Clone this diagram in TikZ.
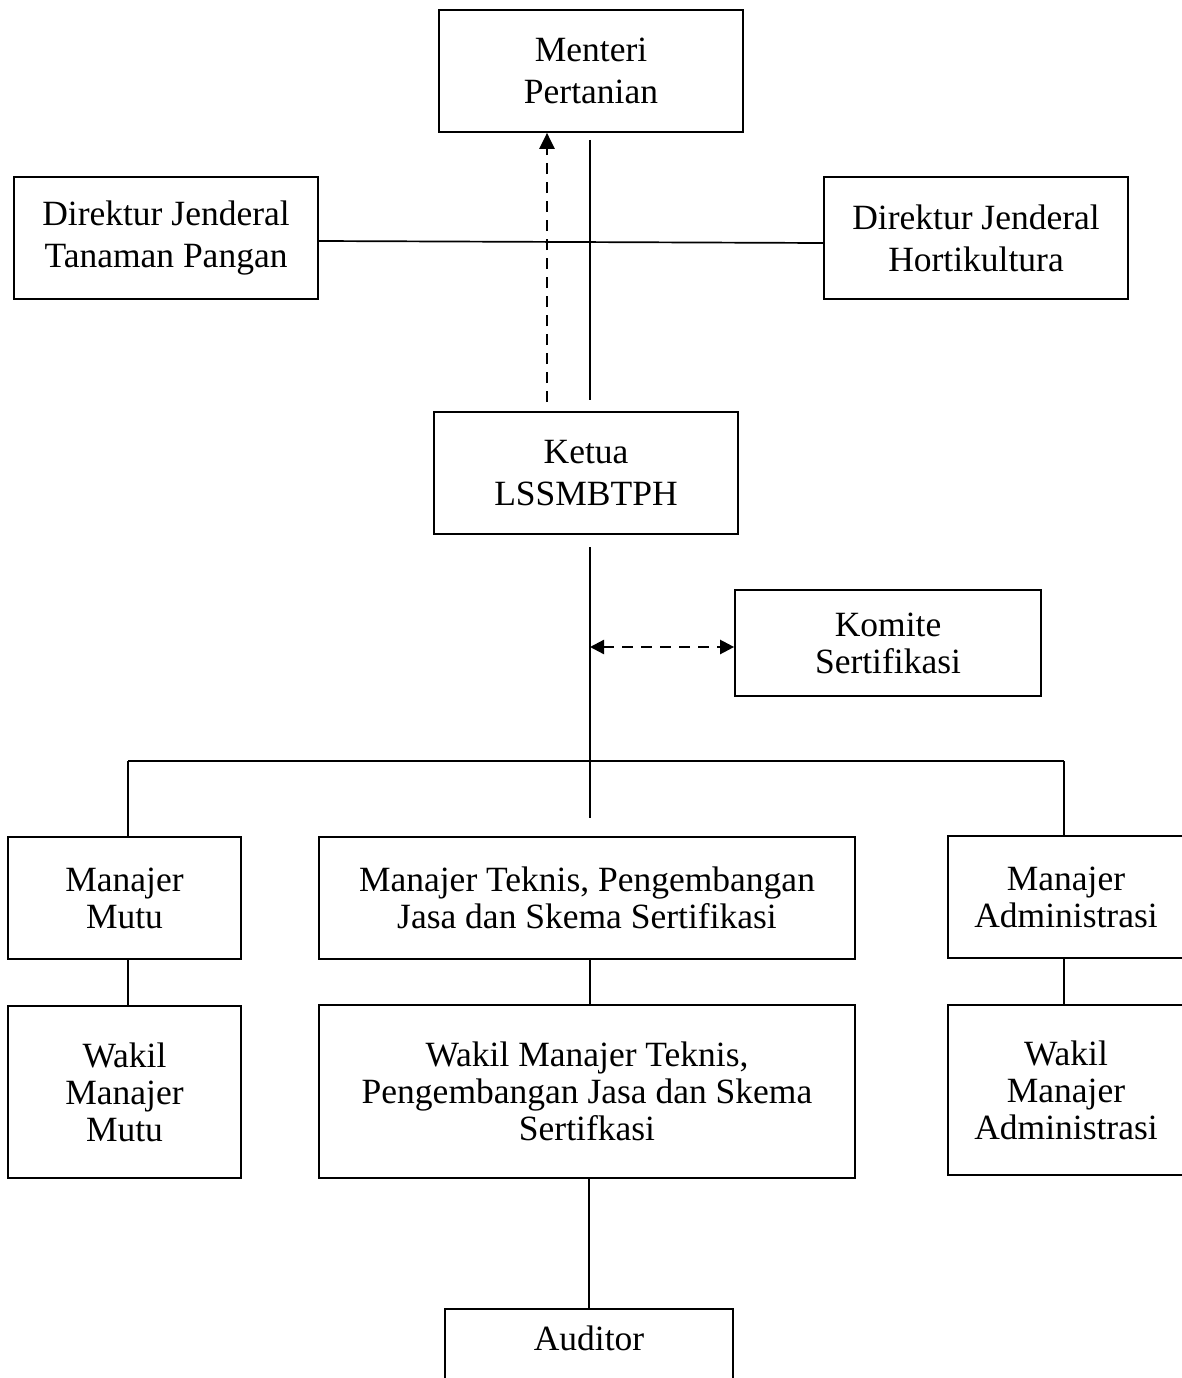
\documentclass[tikz,border=0pt]{standalone}
\usepackage{fontspec}
\setmainfont{Liberation Serif}
\usetikzlibrary{arrows.meta,calc}
\tikzset{
  box/.style={draw, line width=1.7pt, rectangle, align=center, inner sep=0pt,
    font=\fontsize{35.5}{37}\selectfont},
  topbox/.style={box, font=\fontsize{35.5}{42}\selectfont},
  conn/.style={line width=1.7pt},
  dashconn/.style={line width=2.3pt, dash pattern=on 11pt off 8pt},
  tip/.style={-{Triangle[length=16pt,width=15pt]}},
  dtip/.style={{Triangle[length=14pt,width=14pt]}-{Triangle[length=14pt,width=14pt]}}
}
\begin{document}
\begin{tikzpicture}[x=1pt,y=-1pt]
\useasboundingbox (0,0) rectangle (1182,1378);
\clip (0,0) rectangle (1182,1378);
% nodes
\node[topbox, minimum width=304pt, minimum height=122pt] (menteri) at (591,71) {Menteri\\Pertanian};
\node[topbox, minimum width=304pt, minimum height=122pt] (dtp) at (166,238) {Direktur Jenderal\\Tanaman Pangan};
\node[topbox, minimum width=304pt, minimum height=122pt] (dh) at (976,238) {Direktur Jenderal\\Hortikultura};
\node[topbox, minimum width=304pt, minimum height=122pt] (ketua) at (586,473) {Ketua\\LSSMBTPH};
\node[box, minimum width=306pt, minimum height=106pt] (komite) at (888,643) {Komite\\Sertifikasi};
\node[box, minimum width=233pt, minimum height=122pt] (mm) at (124.5,898) {Manajer\\Mutu};
\node[box, minimum width=536pt, minimum height=122pt] (mt) at (587,898) {Manajer Teknis, Pengembangan\\Jasa dan Skema Sertifikasi};
\node[box, minimum width=236pt, minimum height=122pt] (ma) at (1066,897) {Manajer\\Administrasi};
\node[box, minimum width=233pt, minimum height=172pt] (wm) at (124.5,1092) {Wakil\\Manajer\\Mutu};
\node[box, minimum width=536pt, minimum height=173pt] (wt) at (587,1091.5) {Wakil Manajer Teknis,\\Pengembangan Jasa dan Skema\\Sertifkasi};
\node[box, minimum width=236pt, minimum height=170pt] (wa) at (1066,1090) {Wakil\\Manajer\\Administrasi};
\node[box, minimum width=288pt, anchor=north, inner ysep=12pt, text height=30pt, text depth=60pt] (auditor) at (589,1308) {Auditor};
% free-end coordinates
\coordinate (sTop) at (590,140);
\coordinate (sBot) at (590,400);
\coordinate (dBot) at (547,402);
\coordinate (kTop) at (590,547);
\coordinate (kBot) at (590,818);
\coordinate (kMid) at (590,647);
\coordinate (busL) at (128,761);
\coordinate (busR) at (1064,761);
% connectors
\draw[conn] (sTop) -- (sBot);
\draw[dashconn, tip] (dBot) -- (dBot |- menteri.south);
\draw[conn] (dtp.east |- 0,241) -- (dh.west |- 0,243);
\draw[conn] (kTop) -- (kBot);
\draw[dashconn, dtip] (kMid) -- (komite.west |- kMid);
\draw[conn] (busL) -- (busR);
\draw[conn] (busL) -- (busL |- mm.north);
\draw[conn] (busR) -- (busR |- ma.north);
\draw[conn] (mm.south -| 128,0) -- (wm.north -| 128,0);
\draw[conn] (mt.south -| 590,0) -- (wt.north -| 590,0);
\draw[conn] (ma.south -| 1064,0) -- (wa.north -| 1064,0);
\draw[conn] (wt.south -| auditor.north) -- (auditor.north);
\end{tikzpicture}
\end{document}
